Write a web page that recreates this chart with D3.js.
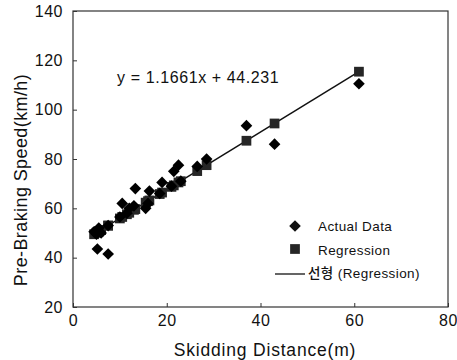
<!DOCTYPE html>
<html>
<head>
<meta charset="utf-8">
<script src="https://cdn.jsdelivr.net/npm/d3@7"></script>
<style>
  body { margin: 0; background: #fff; }
  svg { display: block; font-family: "Liberation Sans", Arial, sans-serif; }
  .tick text { font-size: 16px; fill: #111; letter-spacing: 0.5px; }
  .domain, .tick line { stroke: #333; }
</style>
</head>
<body>
<div id="chart"></div>
<script>
// skidding distance (m) and measured pre-braking speed (km/h)
const distance = [4.5, 5.0, 5.5, 6.0, 5.2, 7.5, 7.5, 10.0, 10.5, 11.5, 12.0, 13.0, 13.3,
                  15.5, 16.0, 16.3, 18.5, 19.0, 21.0, 21.5, 22.5, 23.0, 26.5, 28.5, 37.0, 43.0, 61.0];
const actualSpeed = [50.5, 49.5, 52.0, 50.0, 43.5, 41.5, 53.0, 56.5, 62.0, 58.0, 60.0, 61.0, 68.0,
                     60.0, 62.0, 67.0, 66.0, 70.5, 69.0, 75.0, 77.5, 71.0, 77.0, 80.0, 93.5, 86.0, 110.5];
// fitted values
const regressionSpeed = [49.5, 50.1, 50.6, 51.2, 50.3, 53.0, 53.0, 55.9, 56.5, 57.6, 58.2, 59.4, 59.7,
                         62.3, 62.9, 63.2, 65.8, 66.4, 68.7, 69.3, 70.5, 71.0, 75.1, 77.5, 87.4, 94.4, 115.4];
const xTicks = [0, 20, 40, 60, 80];
const yTicks = [20, 40, 60, 80, 100, 120, 140];
const legendLabels = ["Actual Data", "Regression", "선형 (Regression)"];
const equation = "y = 1.1661x + 44.231";

let width = 457,
    height = 360,
    margin = ({ top: 11, right: 9, bottom: 53, left: 73 });

const svg = d3.select("#chart")
    .append("svg")
    .attr("width", width)
    .attr("height", height);

let x = d3.scaleLinear()
    .domain([0, 80])
    .range([margin.left, width - margin.right]);

let y = d3.scaleLinear()
    .domain([20, 140])
    .range([height - margin.bottom, margin.top]);

// frame
svg.append("rect")
    .attr("x", x(0))
    .attr("y", y(140))
    .attr("width", x(80) - x(0))
    .attr("height", y(20) - y(140))
    .attr("fill", "none")
    .attr("stroke", "#333")
    .attr("stroke-width", 1.2);

svg.append("g")
    .attr("transform", `translate(0,${y(20)})`)
    .call(d3.axisBottom(x).tickValues(xTicks).tickSize(-4).tickSizeOuter(0).tickPadding(8))
    .call(g => g.select(".domain").remove());

svg.append("g")
    .attr("transform", `translate(${x(0)},0)`)
    .call(d3.axisLeft(y).tickValues(yTicks).tickSize(-4).tickSizeOuter(0).tickPadding(10))
    .call(g => g.select(".domain").remove());

svg.append("text")
    .attr("x", 265)
    .attr("y", 356)
    .attr("text-anchor", "middle")
    .attr("font-size", 17.5)
    .attr("letter-spacing", 0.8)
    .attr("fill", "#111")
    .text("Skidding Distance(m)");

svg.append("text")
    .attr("transform", `translate(27,180) rotate(-90)`)
    .attr("text-anchor", "middle")
    .attr("font-size", 18)
    .attr("letter-spacing", 0.4)
    .attr("fill", "#111")
    .text("Pre-Braking Speed(km/h)");

// regression line
const xExt = d3.extent(distance);
const line = d3.line().x(d => x(d[0])).y(d => y(d[1]));
const iMin = distance.indexOf(xExt[0]), iMax = distance.indexOf(xExt[1]);
svg.append("path")
    .attr("d", line([[distance[iMin], regressionSpeed[iMin]], [distance[iMax], regressionSpeed[iMax]]]))
    .attr("stroke", "#111")
    .attr("stroke-width", 1.5)
    .attr("fill", "none");

const diamond = d3.symbol().type(d3.symbolSquare).size(68);
const square = d3.symbol().type(d3.symbolSquare).size(95);

svg.append("g")
    .selectAll("path")
    .data(distance)
    .join("path")
    .attr("d", square)
    .attr("transform", (d, i) => `translate(${x(d)},${y(regressionSpeed[i])})`)
    .attr("fill", "#262626");

svg.append("g")
    .selectAll("path")
    .data(distance)
    .join("path")
    .attr("d", diamond)
    .attr("transform", (d, i) => `translate(${x(d)},${y(actualSpeed[i])}) rotate(45)`)
    .attr("fill", "#000");

svg.append("text")
    .attr("x", 117)
    .attr("y", 83)
    .attr("font-size", 16)
    .attr("letter-spacing", 0.6)
    .attr("fill", "#111")
    .text(equation);

// legend
const leg = svg.append("g").attr("font-size", 13.5).attr("letter-spacing", 0.4).attr("fill", "#111");
leg.append("path")
    .attr("d", diamond)
    .attr("transform", "translate(295,226) rotate(45)");
leg.append("path")
    .attr("d", square)
    .attr("transform", "translate(295,249)")
    .attr("fill", "#262626");
leg.append("line")
    .attr("x1", 275).attr("x2", 305)
    .attr("y1", 274).attr("y2", 274)
    .attr("stroke", "#111")
    .attr("stroke-width", 1.3);
leg.selectAll("text")
    .data(legendLabels)
    .join("text")
    .attr("x", (d, i) => i < 2 ? 318 : 308)
    .attr("y", (d, i) => 231 + i * 23.5)
    .attr("font-family", (d, i) => i < 2 ? null : "'Liberation Sans', 'Noto Sans CJK KR', sans-serif")
    .attr("font-weight", (d, i) => i < 2 ? null : 500)
    .text(d => d);
</script>
</body>
</html>
